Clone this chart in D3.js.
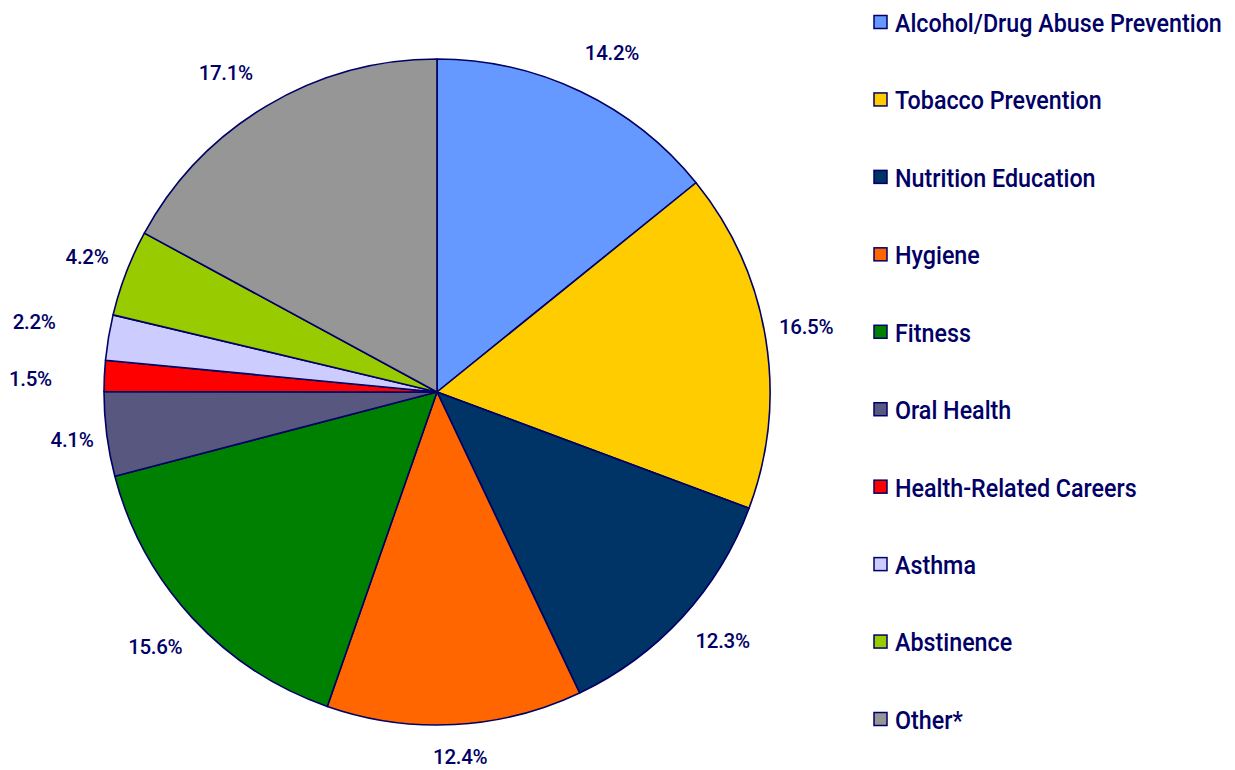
<!DOCTYPE html>
<html><head><meta charset="utf-8">
<script src="https://cdn.jsdelivr.net/npm/d3@7"></script>
<style>
html,body{margin:0;padding:0;background:#fff;}
text{font-family:Roboto,"Liberation Sans",Arial,sans-serif;fill:#000066;font-weight:500;}
</style></head><body>
<svg id="c" width="1235" height="770"></svg>
<script>
const categories = ["Alcohol/Drug Abuse Prevention","Tobacco Prevention","Nutrition Education","Hygiene","Fitness","Oral Health","Health-Related Careers","Asthma","Abstinence","Other*"];
const values = [14.2,16.5,12.3,12.4,15.6,4.1,1.5,2.2,4.2,17.1];
const labels = ["14.2%","16.5%","12.3%","12.4%","15.6%","4.1%","1.5%","2.2%","4.2%","17.1%"];
const colors = ["#6699FF","#FFCC00","#003366","#FF6600","#008000","#57577F","#FF0000","#CCCCFF","#99CC00","#969696"];
// layout nudges for crowded labels (pixels)
const labelNudgeX = [12,-4,7,3,-4,10,-29,-30,3,-18];
const labelNudgeY = [2,-4,-7,-12,-1,0,5,-8,0,6];

const svg = d3.select("#c");
const cx = 437, cy = 392, R = 333, LR = 378;
const pie = d3.pie().sort(null).value(d=>d);
const arcs = pie(values);
const arc = d3.arc().innerRadius(0).outerRadius(R);
const g = svg.append("g").attr("transform",`translate(${cx},${cy})`);
g.selectAll("path").data(arcs).join("path")
  .attr("d",arc).attr("fill",(d,i)=>colors[i])
  .attr("stroke","#000066").attr("stroke-width",1.6).attr("stroke-linejoin","round");
const lab = d3.arc().innerRadius(LR).outerRadius(LR);
g.selectAll("text.l").data(arcs).join("text").attr("class","l")
  .attr("x",(d,i)=>lab.centroid(d)[0]+labelNudgeX[i])
  .attr("y",(d,i)=>lab.centroid(d)[1]+labelNudgeY[i])
  .attr("text-anchor","middle").attr("dominant-baseline","central")
  .attr("font-size",20.5).attr("letter-spacing",-0.3).text((d,i)=>labels[i]);

const ly = d3.scalePoint().domain(categories).range([22,719]);
const leg = svg.append("g");
const items = leg.selectAll("g").data(categories).join("g")
  .attr("transform",d=>`translate(874,${ly(d)})`);
items.append("rect").attr("x",0).attr("y",-6.5).attr("width",13).attr("height",13)
  .attr("fill",(d,i)=>colors[i]).attr("stroke","#000066").attr("stroke-width",1.5);
const lt = items.append("text").attr("y",1).attr("dominant-baseline","central")
  .attr("font-size",25.5).text(d=>d);
const targetW = 327;
const w0 = lt.nodes()[0].getComputedTextLength();
const sx = Math.min(1, targetW / w0);
lt.attr("transform",`translate(21,0) scale(${sx},1)`);
</script></body></html>
